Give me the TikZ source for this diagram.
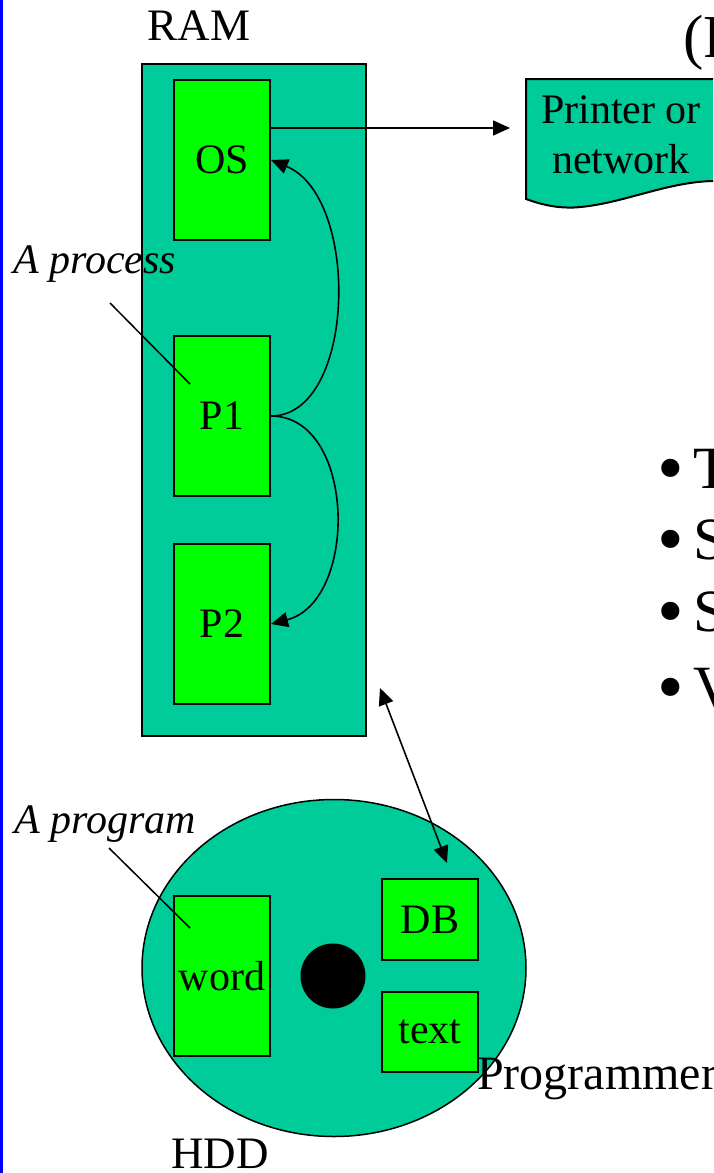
\documentclass[tikz,border=0pt]{standalone}
\usepackage{fontspec}
\setmainfont{Liberation Serif}
\usetikzlibrary{arrows.meta,shapes.geometric}
\definecolor{ramteal}{RGB}{0,204,153}
\definecolor{boxgreen}{RGB}{0,255,0}
\definecolor{edgeblue}{RGB}{0,0,255}
\newcommand{\bigbullet}{\makebox[34pt][l]{\hspace{-2pt}\raisebox{-5pt}[0pt][0pt]{\fontsize{76}{76}\selectfont •}}}
\begin{document}
\begin{tikzpicture}[x=1pt,y=-1pt,
  lbl/.style={inner sep=0pt, font=\fontsize{42}{50}\selectfont},
  biglbl/.style={inner sep=0pt, font=\fontsize{45}{54}\selectfont},
  notelbl/.style={inner sep=0pt, font=\fontsize{42}{50}\selectfont\itshape},
  bulletlbl/.style={inner sep=0pt, anchor=base west, font=\fontsize{60}{72}\selectfont},
  membox/.style={draw=black, line width=2pt, fill=ramteal, inner sep=0pt},
  progbox/.style={draw=black, line width=2pt, fill=boxgreen, inner sep=0pt,
    minimum width=96pt, font=\fontsize{42}{50}\selectfont},
  tallbox/.style={progbox, minimum height=160pt},
  filebox/.style={progbox, minimum height=80pt},
  arr/.style={line width=1.6pt, -{Triangle[length=17pt,width=15pt]}},
  darr/.style={line width=1.6pt, {Triangle[length=17pt,width=15pt]}-{Triangle[length=17pt,width=15pt]}},
  pointer/.style={line width=1.5pt}
]
\useasboundingbox (0,0) rectangle (713,1173);
\clip (0,0) rectangle (713,1173);
\fill[white] (0,0) rectangle (713,1173);
\fill[edgeblue] (0,0) rectangle (2.5,1173);

% title fragment
\node[inner sep=0pt, anchor=base west, font=\fontsize{61}{72}\selectfont] (title) at (683,57) {(P};

% RAM
\node[biglbl, anchor=base] (ramlbl) at (199,40) {RAM};
\node[membox, minimum width=224pt, minimum height=672pt] (ram) at (254,400) {};
\node[tallbox] (OS) at (222,160) {OS};
\node[tallbox] (P1) at (222,416) {P1};
\node[tallbox] (P2) at (222,624) {P2};

\draw[arr] (P1.east) .. controls +(85,0) and +(90,37) .. (OS.east);
\draw[arr] (P1.east) .. controls +(85,0) and +(88,-23) .. (P2.east);

% printer / network
\fill[ramteal] (740,79) -- (526,79) -- (526,199)
  .. controls (545,206) and (560,208) .. (574,207.5)
  .. controls (620,205) and (665,182) .. (713,181) -- (740,181) -- cycle;
\draw[line width=2pt] (740,79) -- (526,79) -- (526,199)
  .. controls (545,206) and (560,208) .. (574,207.5)
  .. controls (620,205) and (665,182) .. (713,181) -- (740,181);
\node[lbl, anchor=base] (prt1) at (621,123) {Printer or};
\node[lbl, anchor=base] (prt2) at (621,173) {network};
\coordinate (prtin) at (510,128);
\draw[arr] (OS.north east |- prtin) -- (prtin);

% process note
\node[notelbl, anchor=base west] (proclbl) at (13,273) {A process};
\coordinate (procA) at (110,303);
\coordinate (procB) at (190,384);
\draw[pointer] (procA) -- (procB);

% bullets
\node[bulletlbl] (b1) at (659,488) {\bigbullet T};
\node[bulletlbl] (b2) at (659,559) {\bigbullet S};
\node[bulletlbl] (b3) at (659,631) {\bigbullet S};
\node[bulletlbl] (b4) at (659,707) {\bigbullet V};

% HDD
\node[draw=black, line width=1.5pt, fill=ramteal, ellipse, inner sep=0pt,
  minimum width=384pt, minimum height=337pt] (hdd) at (334,968) {};
\node[circle, fill=black, inner sep=0pt, minimum size=65pt] (hub) at (333,976) {};
\node[tallbox] (word) at (222,976) {word};
\node[filebox, minimum height=81pt] (DB) at (430,919.5) {DB};
\node[filebox] (text) at (430,1032) {text};
\node[biglbl, anchor=base] (hddlbl) at (220,1168) {HDD};
\node[inner sep=0pt, anchor=base west, font=\fontsize{48}{56}\selectfont] (prog) at (477,1089) {Programmer};

% program note
\node[notelbl, anchor=base west] (proglbl) at (14,833) {A program};
\coordinate (progA) at (109,848);
\coordinate (progB) at (190,928);
\draw[pointer] (progA) -- (progB);

% RAM <-> HDD
\coordinate (ramtip) at (380,688);
\coordinate (hddtip) at (447,863);
\draw[darr] (ramtip) -- (hddtip);
\end{tikzpicture}
\end{document}
